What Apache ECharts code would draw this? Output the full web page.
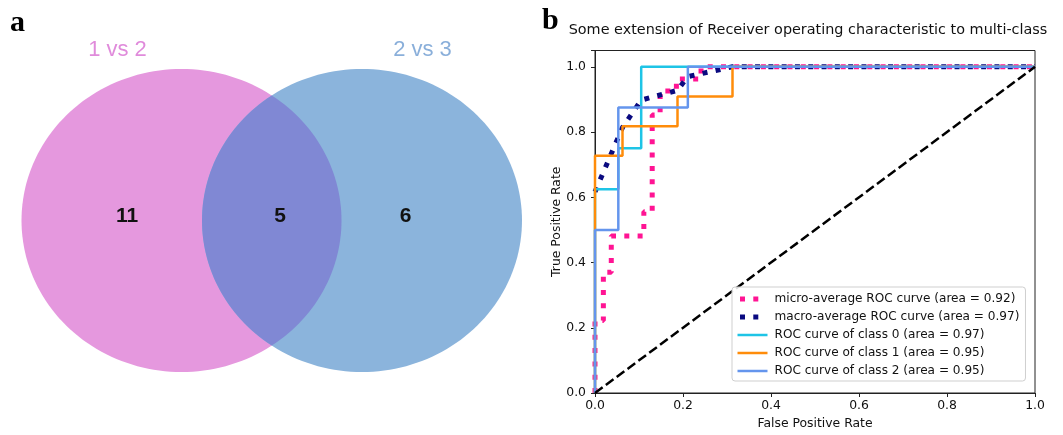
<!DOCTYPE html>
<html>
<head>
<meta charset="utf-8">
<script src="https://cdn.jsdelivr.net/npm/echarts@6/dist/echarts.min.js"></script>
<style>
  html, body { margin: 0; padding: 0; background: #fff; }
  #main { width: 1063px; height: 435px; }
</style>
</head>
<body>
<div id="main"></div>
<script>
// ---- panel a : venn counts
const vennSets = ['1 vs 2', '2 vs 3'];
const vennCounts = [11, 5, 6]; // only 1vs2, both, only 2vs3

// ---- panel b : roc curves
const xTicks = [0, 0.2, 0.4, 0.6, 0.8, 1.0];
const microFpr = [0, 0, 0.019, 0.019, 0.037, 0.037, 0.111, 0.111, 0.130, 0.130, 0.148, 0.148, 0.185, 0.185, 0.241, 0.241, 1];
const microTpr = [0, 0.222, 0.222, 0.370, 0.370, 0.481, 0.481, 0.556, 0.556, 0.852, 0.852, 0.926, 0.926, 0.963, 0.963, 1, 1];
const macroFpr = [0, 0.053, 0.0625, 0.105, 0.1875, 0.211, 0.3125, 1];
const macroTpr = [0.617, 0.784, 0.814, 0.898, 0.928, 0.970, 1, 1];
const class0Fpr = [0, 0, 0.053, 0.053, 0.105, 0.105, 1];
const class0Tpr = [0, 0.625, 0.625, 0.75, 0.75, 1, 1];
const class1Fpr = [0, 0, 0.0625, 0.0625, 0.1875, 0.1875, 0.3125, 0.3125, 1];
const class1Tpr = [0, 0.727, 0.727, 0.818, 0.818, 0.909, 0.909, 1, 1];
const class2Fpr = [0, 0, 0.053, 0.053, 0.211, 0.211, 1];
const class2Tpr = [0, 0.5, 0.5, 0.875, 0.875, 1, 1];
const chanceFpr = [0, 1];
const chanceTpr = [0, 1];
const curveNames = [
  'micro-average ROC curve (area = 0.92)',
  'macro-average ROC curve (area = 0.97)',
  'ROC curve of class 0 (area = 0.97)',
  'ROC curve of class 1 (area = 0.95)',
  'ROC curve of class 2 (area = 0.95)'
];

const FONT = 'DejaVu Sans';
let chart = echarts.init(document.getElementById('main'));

function pairs(xs, ys) {
  return xs.map((x, i) => [x, ys[i]]);
}

// venn layout
const V = { cy: 220.5, rx: 160, ry: 151.5, cxA: 181.5, cxB: 362 };
const vennColors = ['#e598de', '#8088d4', '#8bb4dc'];

function arcPts(cx, cy, rx, ry, a0, a1, n) {
  let pts = [];
  for (let i = 0; i <= n; i++) {
    let t = a0 + (a1 - a0) * i / n;
    pts.push([cx + rx * Math.cos(t), cy + ry * Math.sin(t)]);
  }
  return pts;
}

function renderVenn(params, api) {
  let idx = params.dataIndex;
  let t0 = Math.acos(((V.cxB - V.cxA) / 2) / V.rx);
  let children = [];
  if (idx === 0 || idx === 2) {
    let cx = idx === 0 ? V.cxA : V.cxB;
    children.push({
      type: 'polygon', z2: 0,
      shape: { points: arcPts(cx, V.cy, V.rx, V.ry, 0, Math.PI * 2, 180) },
      style: { fill: vennColors[idx] }
    });
    children.push({
      type: 'text', z2: 3,
      style: {
        text: vennSets[idx === 0 ? 0 : 1],
        x: idx === 0 ? 117.5 : 422.5, y: 49.5,
        align: 'center', verticalAlign: 'middle',
        font: '22px "Liberation Sans", Arial, sans-serif',
        fill: idx === 0 ? '#e08bdb' : '#8aafda'
      }
    });
  } else {
    let pts = arcPts(V.cxA, V.cy, V.rx, V.ry, -t0, t0, 60)
      .concat(arcPts(V.cxB, V.cy, V.rx, V.ry, Math.PI - t0, Math.PI + t0, 60));
    children.push({
      type: 'polygon', z2: 1,
      shape: { points: pts },
      style: { fill: vennColors[1] }
    });
  }
  let numX = [127, 280, 405.5];
  children.push({
    type: 'text', z2: 3,
    style: {
      text: String(api.value(0)),
      x: numX[idx], y: 216,
      align: 'center', verticalAlign: 'middle',
      font: 'bold 21px "Liberation Sans", Arial, sans-serif',
      fill: '#111'
    }
  });
  return { type: 'group', children: children };
}

let dotted = [5, 8.3];
// legend handle shows just two dots, like the matplotlib one
let legendData = curveNames.map((n, i) => ({
  name: n,
  lineStyle: i < 2
    ? { width: 5, type: [5, 8.3, 5, 30], dashOffset: -2.5, cap: 'butt' }
    : { width: 2.5, type: 'solid' }
}));

let option = {
  animation: false,
  backgroundColor: '#fff',
  graphic: [
    { type: 'text', left: 10, top: 8, style: { text: 'a', font: 'bold 30px "Liberation Serif", serif', fill: '#000' } },
    { type: 'text', left: 542, top: 6, style: { text: 'b', font: 'bold 30px "Liberation Serif", serif', fill: '#000' } },
    { type: 'text', x: 808, y: 30, style: {
        text: 'Some extension of Receiver operating characteristic to multi-class',
        font: '14.4px "DejaVu Sans"', fill: '#111', align: 'center', verticalAlign: 'middle' } }
  ],
  grid: {
    left: 595, top: 50.5, width: 440, height: 346.5,
    show: true, borderColor: '#222', borderWidth: 1, backgroundColor: 'transparent'
  },
  legend: {
    orient: 'vertical',
    left: 732, top: 287,
    padding: [6, 6, 4, 3],
    itemGap: 6,
    itemWidth: 30,
    itemHeight: 14,
    itemStyle: { opacity: 0 },
    backgroundColor: 'rgba(255,255,255,0.85)',
    borderColor: '#cfcfcf', borderWidth: 1, borderRadius: 3,
    textStyle: { fontFamily: FONT, fontSize: 12.1, color: '#111', padding: [0, 0, 0, 2] },
    data: legendData
  },
  xAxis: {
    type: 'value', min: 0, max: 1, interval: 0.2,
    name: 'False Positive Rate', nameLocation: 'middle', nameGap: 25,
    nameTextStyle: { fontFamily: FONT, fontSize: 12.4, color: '#111' },
    axisLine: { show: true, onZero: false, lineStyle: { color: '#222', width: 1 } },
    axisTick: { show: true, length: 4, lineStyle: { color: '#222' } },
    axisLabel: { fontFamily: FONT, fontSize: 12.4, color: '#111', margin: 7,
      formatter: v => v.toFixed(1) },
    splitLine: { show: false }
  },
  yAxis: {
    type: 'value', min: 0, max: 1.05, interval: 0.2,
    name: 'True Positive Rate', nameLocation: 'middle', nameGap: 32,
    nameTextStyle: { fontFamily: FONT, fontSize: 12.4, color: '#111' },
    axisLine: { show: true, onZero: false, lineStyle: { color: '#222', width: 1 } },
    axisTick: { show: true, length: 4, lineStyle: { color: '#222' } },
    axisLabel: { fontFamily: FONT, fontSize: 12.4, color: '#111', margin: 9,
      formatter: v => (v > 1.001 ? '' : v.toFixed(1)) },
    splitLine: { show: false }
  },
  series: [
    {
      type: 'custom', coordinateSystem: 'none', silent: true,
      renderItem: renderVenn,
      data: vennCounts
    },
    {
      name: curveNames[0], type: 'line', showSymbol: false, symbol: 'none',
      data: pairs(microFpr, microTpr),
      color: '#ff1493',
      lineStyle: { color: '#ff1493', width: 5, type: dotted, cap: 'butt' }
    },
    {
      name: curveNames[1], type: 'line', showSymbol: false, symbol: 'none',
      data: pairs(macroFpr, macroTpr),
      color: '#0a0a80',
      lineStyle: { color: '#0a0a80', width: 5, type: dotted, cap: 'butt' }
    },
    {
      name: curveNames[2], type: 'line', showSymbol: false, symbol: 'none',
      data: pairs(class0Fpr, class0Tpr),
      color: '#1ec4e6',
      lineStyle: { color: '#1ec4e6', width: 2.5 }
    },
    {
      name: curveNames[3], type: 'line', showSymbol: false, symbol: 'none',
      data: pairs(class1Fpr, class1Tpr),
      color: '#ff8c0a',
      lineStyle: { color: '#ff8c0a', width: 2.5 }
    },
    {
      name: curveNames[4], type: 'line', showSymbol: false, symbol: 'none',
      data: pairs(class2Fpr, class2Tpr),
      color: '#6495ed',
      lineStyle: { color: '#6495ed', width: 2.5 }
    },
    {
      name: 'chance', type: 'line', showSymbol: false, symbol: 'none',
      data: pairs(chanceFpr, chanceTpr),
      color: '#000',
      lineStyle: { color: '#000', width: 2.5, type: [9.5, 4] }
    }
  ]
};
chart.setOption(option);
</script>
</body>
</html>
